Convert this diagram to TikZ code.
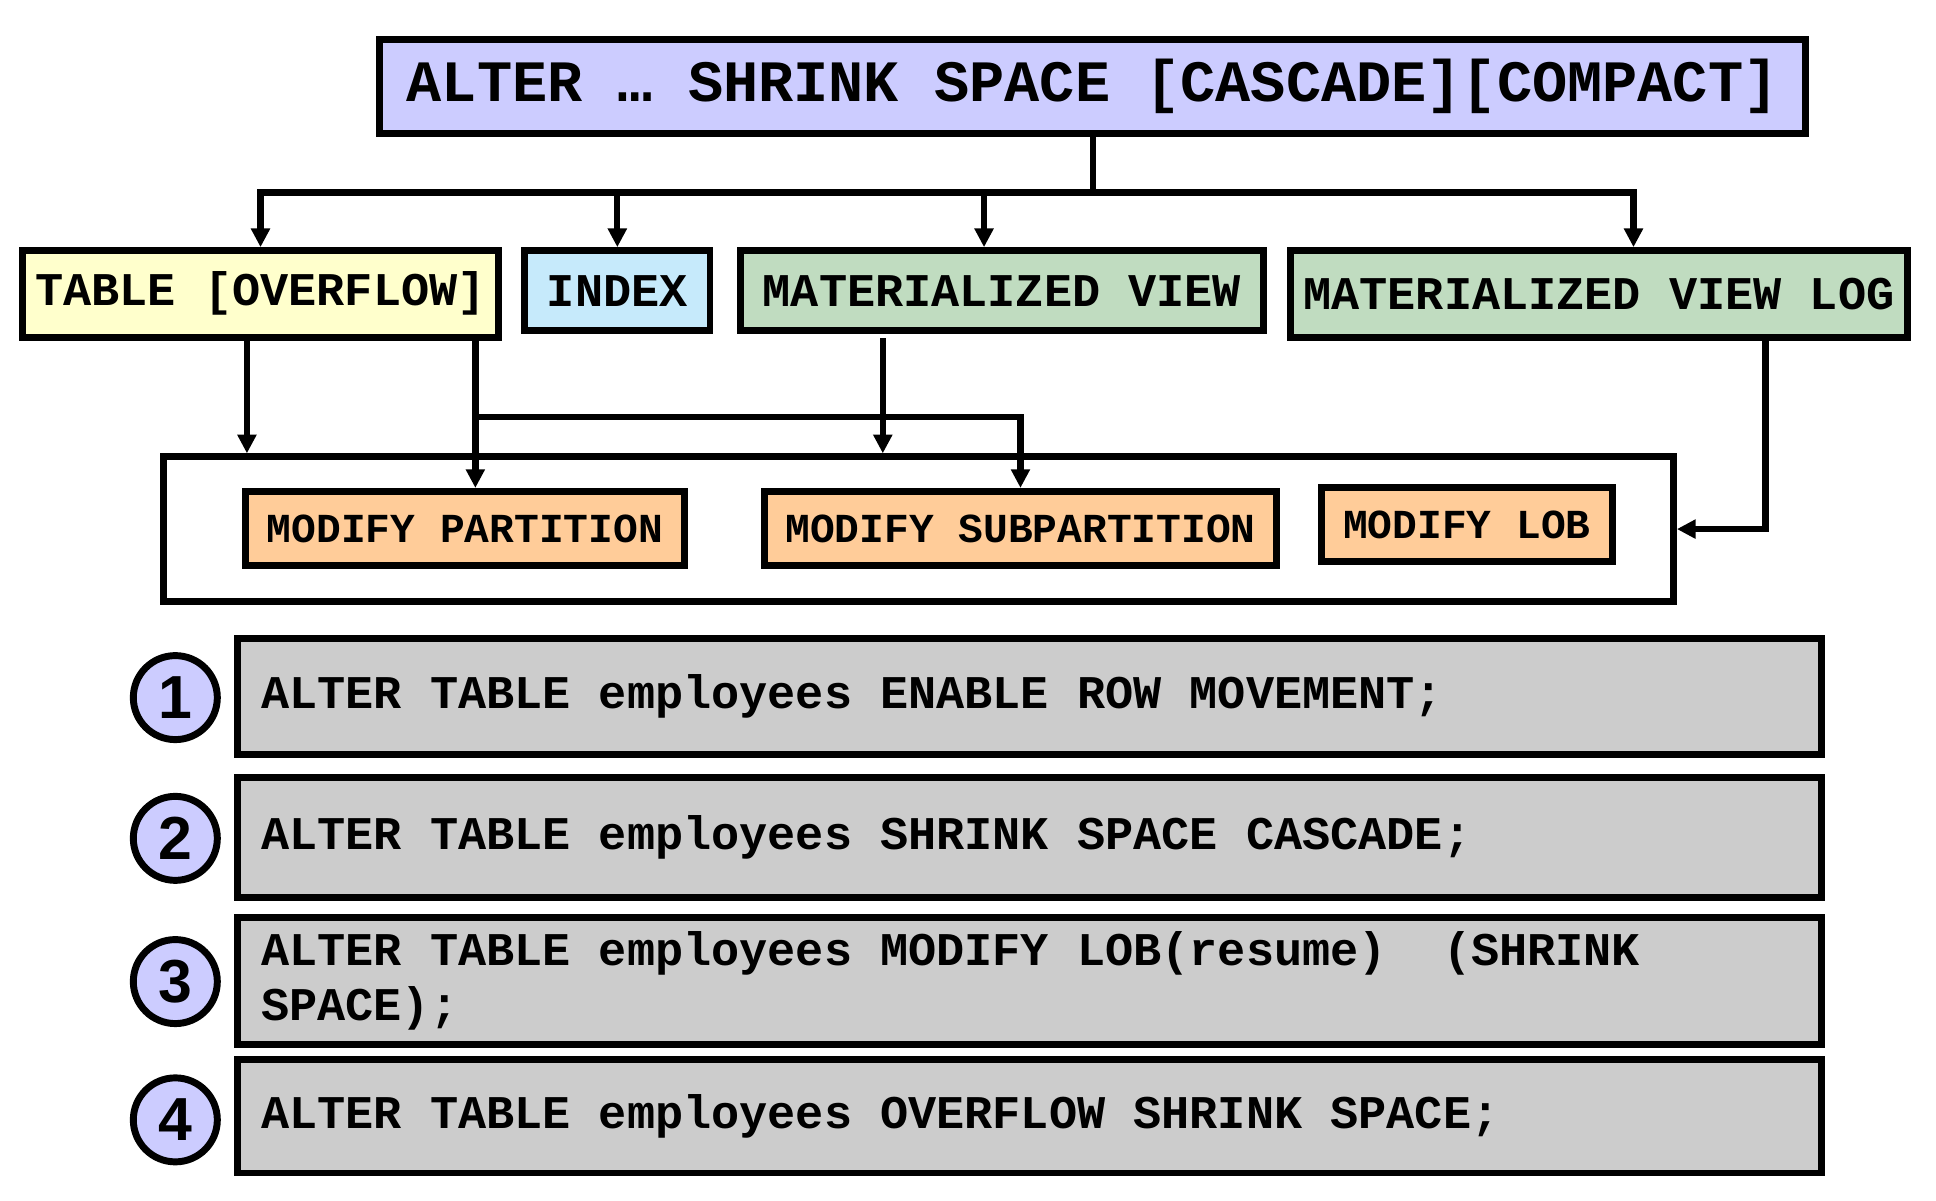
\documentclass[tikz,border=0pt]{standalone}
\usepackage{fontspec}
\setmainfont{Liberation Sans}
\setsansfont{Liberation Sans}
\setmonofont{Liberation Mono}[WordSpace={1,0,0}]
\usetikzlibrary{arrows.meta}

\definecolor{lavender}{HTML}{CCCCFF}
\definecolor{paleyellow}{HTML}{FFFFCC}
\definecolor{paleblue}{HTML}{C6EAFB}
\definecolor{palegreen}{HTML}{C0DCC0}
\definecolor{peach}{HTML}{FFCC99}
\definecolor{codegray}{HTML}{CCCCCC}

\tikzset{
  box/.style={draw, line width=1.6pt, inner sep=0pt, font=\ttfamily\bfseries\fontsize{10.8}{13}\selectfont},
  bigbox/.style={box, font=\ttfamily\bfseries\fontsize{13.5}{16}\selectfont},
  subbox/.style={box, fill=peach, minimum height=0.6cm, font=\ttfamily\bfseries\fontsize{9.5}{11}\selectfont},
  code/.style={box, fill=codegray, minimum width=12.82cm, inner xsep=0.19cm, text width=12.44cm, align=left,
    execute at begin node={\spaceskip=0pt\xspaceskip=0pt}, font=\ttfamily\bfseries\fontsize{10.8}{12.8}\selectfont},
  num/.style={circle, draw, line width=1.6pt, fill=lavender, minimum size=0.68cm, inner sep=0pt, font=\sffamily\bfseries\fontsize{14}{16}\selectfont},
  link/.style={line width=1.45pt},
  arr/.style={link, -{Triangle[length=4.3pt,width=4.2pt]}}
}

\begin{document}
\begin{tikzpicture}[x=0.01cm, y=-0.01cm]
\useasboundingbox (0,0) rectangle (1568,972);
\node (top) at (885,70) [bigbox, fill=lavender, minimum width=11.54cm, minimum height=0.76cm] {ALTER … SHRINK SPACE [CASCADE][COMPACT]};
\node (tbl) at (211,238) [box, fill=paleyellow, minimum width=3.86cm, minimum height=0.7cm] {TABLE [OVERFLOW]};
\node (idx) at (500,235.5) [box, fill=paleblue, minimum width=1.5cm, minimum height=0.65cm] {INDEX};
\node (mv) at (811.5,235.5) [box, fill=palegreen, minimum width=4.23cm, minimum height=0.65cm] {MATERIALIZED VIEW};
\node (mvlog) at (1295,238) [box, fill=palegreen, minimum width=5cm, minimum height=0.7cm] {MATERIALIZED VIEW LOG};
\node (cont) at (744,428.5) [box, minimum width=12.22cm, minimum height=1.17cm] {};
\node (part) at (376.5,428) [subbox, minimum width=3.55cm] {MODIFY PARTITION};
\node (subpart) at (826.5,428) [subbox, minimum width=4.15cm] {MODIFY SUBPARTITION};
\node (lob) at (1188,425) [subbox, minimum width=2.36cm] {MODIFY LOB};
\node (s1) at (834,564) [code, minimum height=0.94cm] {ALTER TABLE employees ENABLE ROW MOVEMENT;};
\node (s2) at (834,678.5) [code, minimum height=0.97cm] {ALTER TABLE employees SHRINK SPACE CASCADE;};
\node (s3) at (834,794.5) [code, minimum height=1.03cm] {ALTER TABLE employees MODIFY LOB(resume)~ (SHRINK\\SPACE);};
\node (s4) at (834,904) [code, minimum height=0.92cm] {ALTER TABLE employees OVERFLOW SHRINK SPACE;};
\node (n1) at (142,565) [num] {1};
\node (n2) at (142,679) [num] {2};
\node (n3) at (142,795) [num] {3};
\node (n4) at (142,907) [num] {4};
\coordinate (bus) at (885,156);
\coordinate (tA) at (200,273);
\coordinate (tB) at (385,273);
\coordinate (split) at (385,338);
\coordinate (mvA) at (715,274);
\coordinate (logA) at (1430,273);
\draw [link] (top.south) -- (bus);
\draw [arr] (bus) -| (tbl.north);
\draw [arr] (bus) -| (idx.north);
\draw [arr] (bus) -| ([xshift=-0.145cm]mv.north);
\draw [arr] (bus) -| ([xshift=0.28cm]mvlog.north);
\draw [arr] (tA) -- (tA |- cont.north);
\draw [arr] (tB) -- (tB |- part.north);
\draw [arr] (split) -| (subpart.north);
\draw [arr] (mvA) -- (mvA |- cont.north);
\draw [arr] (logA) |- (cont.east);
\end{tikzpicture}
\end{document}
